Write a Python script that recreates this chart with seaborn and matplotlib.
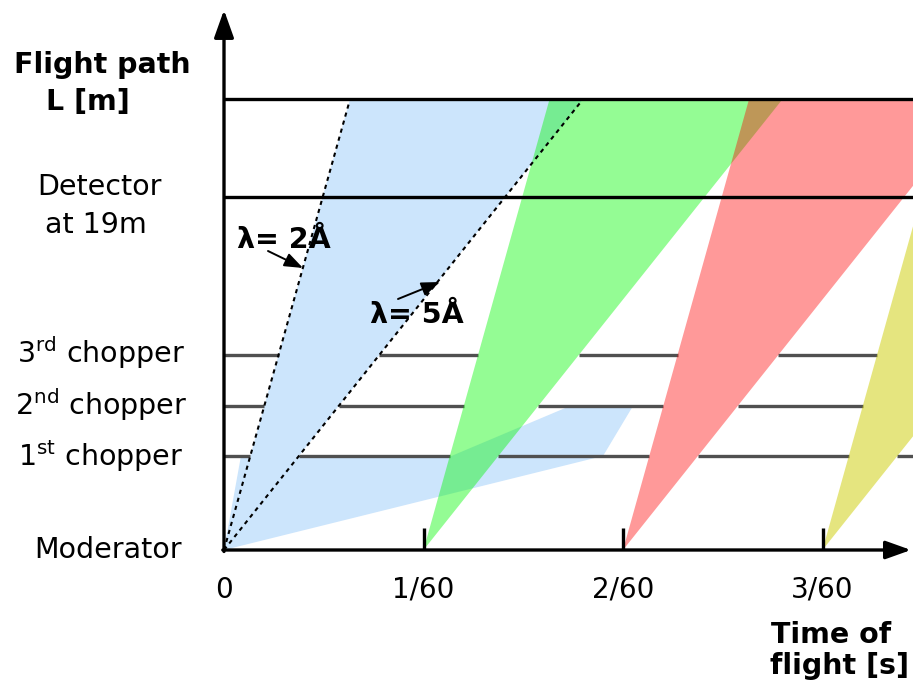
import numpy as np
import pandas as pd
import matplotlib
matplotlib.use("Agg")
import matplotlib.pyplot as plt
import seaborn as sns

# ---------------- data ----------------
# time unit: 1/60 s (one source frame); distance unit: metres
frame_starts = [0, 1, 2, 3]
frame_colors = ["#cce5fc", "#00f800", "#ff0000", "#cccc00"]
frame_alphas = [1.0, 0.42, 0.40, 0.50]
tick_values = [0, 1, 2, 3]
tick_labels = ["0", "1/60", "2/60", "3/60"]

L_top = 24.27
L_detector = 19.0
L_choppers = [5.06, 7.75, 10.5]
chopper_labels = [r"1$^{\mathrm{st}}$ chopper", r"2$^{\mathrm{nd}}$ chopper",
                  r"3$^{\mathrm{rd}}$ chopper"]

t_fast_top = 0.632   # arrival time of the 2 Å edge at L_top
t_slow_top = 1.80    # arrival time of the 5 Å edge at L_top

# extra (slow neutron) part of the first frame, below the 1st / 2nd chopper
low_t_left = 0.085    # steep edge at the 1st chopper
low_t_right = 1.90    # shallow edge at the 1st chopper
band_t_bottom = 1.14  # band left edge at 1st chopper
band_t_top = [1.734, 2.05]  # band extent at the 2nd chopper

# ---------------- figure ----------------
W, H = 913, 691
sns.set_theme(style="white")
plt.rcParams["font.family"] = ["DejaVu Sans"]
plt.rcParams["mathtext.fontset"] = "dejavusans"
plt.rcParams["text.color"] = "black"

fig = plt.figure(figsize=(W / 100, H / 100), dpi=100)
ax = fig.add_axes([0, 0, 1, 1])
px_per_t = 199.5
px_per_m = 353 / 19.0
x0_px, y0_px = 224, 550
ax.set_xlim(-x0_px / px_per_t, (W - x0_px) / px_per_t)
ax.set_ylim(-(H - y0_px) / px_per_m, y0_px / px_per_m)
ax.axis("off")

def P(x, y):
    return (x / W, 1 - y / H)

t_end = (W - x0_px) / px_per_t + 0.1

f = lambda L, ttop: ttop * L / L_top

# frame polygons
def frame_poly(t0):
    return [(t0, 0), (t0 + t_fast_top, L_top), (t0 + t_slow_top, L_top)]

L1, L2 = L_choppers[0], L_choppers[1]
blue_poly = [(0, 0), (low_t_left, L1), (f(L1, t_fast_top), L1),
             (t_fast_top, L_top), (t_slow_top, L_top), (f(L1, t_slow_top), L1),
             (band_t_bottom, L1), (band_t_top[0], L2), (band_t_top[1], L2),
             (low_t_right, L1)]

polys = [blue_poly] + [frame_poly(t0) for t0 in frame_starts[1:]]
for poly, c, a, z in zip(polys, frame_colors, frame_alphas, [1, 3, 3, 3]):
    xs, ys = zip(*poly)
    ax.fill(xs, ys, color=c, alpha=a, lw=0, zorder=z)

# chopper lines: visible only in the gaps between the frame wedges
for Lc in L_choppers:
    intervals = sorted((t0 + f(Lc, t_fast_top), t0 + f(Lc, t_slow_top))
                       for t0 in frame_starts)
    start = 0.0
    for a, b in intervals:
        if a > start:
            ax.plot([start, a], [Lc, Lc], color="#505050", lw=2.4, zorder=2,
                    solid_capstyle="butt")
        start = max(start, b)
    if start < t_end:
        ax.plot([start, t_end], [Lc, Lc], color="#505050", lw=2.4, zorder=2,
                solid_capstyle="butt")

# top and detector lines
for Ly in [L_top, L_detector]:
    ax.plot([0, t_end], [Ly, Ly], color="black", lw=2.4, zorder=4,
            solid_capstyle="butt")

# wavelength (dotted) lines
for ttop in [t_fast_top, t_slow_top]:
    sns.lineplot(x=[0, ttop], y=[0, L_top], ax=ax, color="black", lw=1.5,
                 linestyle=(0, (2, 2)), zorder=5, sort=False, estimator=None)

# axes with arrows
ytip = (y0_px - 10) / px_per_m
xtip = (911 - x0_px) / px_per_t
ax.annotate("", xy=(0, ytip), xytext=(0, -0.08), zorder=6,
            arrowprops=dict(arrowstyle="-|>,head_length=0.7,head_width=0.25",
                            lw=2.4, color="black", mutation_scale=24,
                            shrinkA=0, shrinkB=0))
ax.annotate("", xy=(xtip, 0), xytext=(-0.006, 0), zorder=6,
            arrowprops=dict(arrowstyle="-|>,head_length=0.7,head_width=0.25",
                            lw=2.4, color="black", mutation_scale=22,
                            shrinkA=0, shrinkB=0))
for tv in tick_values[1:]:
    ax.plot([tv, tv], [0, 22 / px_per_m], color="black", lw=2.4, zorder=6,
            solid_capstyle="butt")

# tick labels
for tv, lab in zip(tick_values, tick_labels):
    fig.text(*P(x0_px + tv * px_per_t, 598), lab, ha="center", va="baseline",
             fontsize=20)

# left labels
fig.text(*P(102, 73), "Flight path", ha="center", va="baseline",
         fontsize=20.5, fontweight="bold")
fig.text(*P(88, 110), "L [m]", ha="center", va="baseline",
         fontsize=20.5, fontweight="bold")
fig.text(*P(99, 195), "Detector", ha="center", va="baseline", fontsize=20.5)
fig.text(*P(96, 233), "at 19m", ha="center", va="baseline", fontsize=20.5)
for lab, yb in zip(chopper_labels, [466, 415, 363]):
    fig.text(*P(101, yb), lab, ha="center", va="baseline", fontsize=20.5)
fig.text(*P(108, 558), "Moderator", ha="center", va="baseline", fontsize=20.5)

# time label
fig.text(*P(771, 643), "Time of", ha="left", va="baseline",
         fontsize=20.5, fontweight="bold")
fig.text(*P(770, 674), "flight [s]", ha="left", va="baseline",
         fontsize=20.5, fontweight="bold")

# wavelength labels with arrows
fig.text(*P(237, 248), "λ= 2Å", ha="left", va="baseline", fontsize=20.5,
         fontweight="bold")
fig.text(*P(370, 323), "λ= 5Å", ha="left", va="baseline", fontsize=20.5,
         fontweight="bold")
arrow_kw = dict(arrowstyle="-|>,head_length=0.8,head_width=0.3", lw=1.4,
                color="black", mutation_scale=14, shrinkA=0, shrinkB=0)
ax.annotate("", xy=P(303, 268), xytext=P(268, 251), xycoords="figure fraction",
            textcoords="figure fraction", arrowprops=arrow_kw, zorder=7)
ax.annotate("", xy=P(440, 282), xytext=P(398, 299), xycoords="figure fraction",
            textcoords="figure fraction", arrowprops=arrow_kw, zorder=7)

fig.savefig("out.png", dpi=100)
